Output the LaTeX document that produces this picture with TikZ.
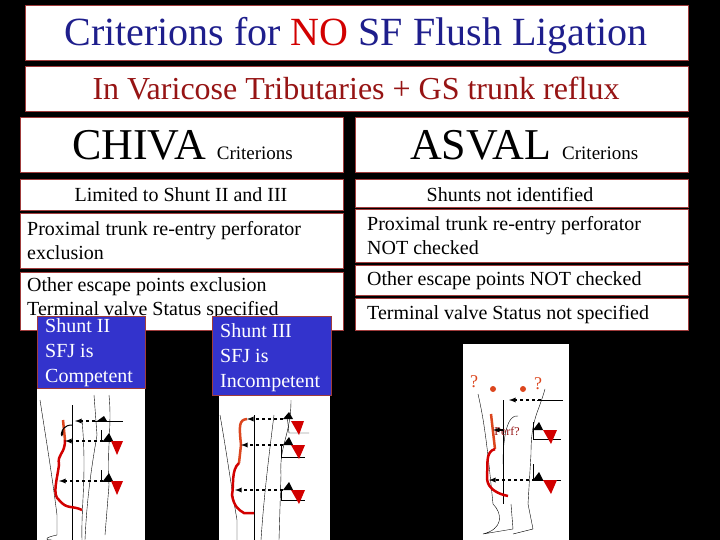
\documentclass[tikz,border=0pt]{standalone}
\usepackage{fontspec}
\setmainfont{Liberation Serif}
\newfontfamily\tnr{Liberation Serif}
\definecolor{navy}{RGB}{30,30,140}
\definecolor{tred}{RGB}{210,0,0}
\definecolor{maroon}{RGB}{150,20,20}
\definecolor{bord}{RGB}{160,60,60}
\definecolor{sblue}{RGB}{51,51,204}
\definecolor{vein}{RGB}{220,70,30}
\begin{document}
\begin{tikzpicture}[x=1pt,y=-1pt,
 box/.style={draw=bord,fill=white,line width=0.8pt},
 txt/.style={anchor=west,align=left,font=\tnr\fontsize{20}{24}\selectfont,inner sep=0},
 blu/.style={draw=bord,fill=sblue,line width=0.8pt},
 bt/.style={anchor=north west,align=left,text=white,font=\tnr\fontsize{20}{25}\selectfont,inner sep=0},
 arr/.style={dashed,line width=1.3pt,-latex},
 tri/.style={fill=tred}]
\fill[black] (0,0) rectangle (720,540);
\useasboundingbox (0,0) rectangle (720,540);
% title
\draw[box] (25,5) rectangle (688,60);
\node[anchor=base,inner sep=0] (t) at (356,46) {\fontspec{Liberation Serif}\fontsize{40}{44}\selectfont\color{navy}Criterions for \textcolor{tred}{NO} SF Flush Ligation};
\draw[box] (25,66) rectangle (688,111);
\node[anchor=base,inner sep=0] (t2) at (356,100) {\fontspec{Liberation Serif}\fontsize{32}{36}\selectfont\color{maroon}In Varicose Tributaries + GS trunk reflux};
\draw[box] (20,117) rectangle (343,172);
\node[anchor=base west,inner sep=0,font=\tnr] (c) at (72,160) {\fontsize{44}{48}\selectfont CHIVA \fontsize{19}{20}\selectfont Criterions};
\draw[box] (355,117) rectangle (688,172);
\node[anchor=base west,inner sep=0,font=\tnr] (a) at (410,160) {\fontsize{44}{48}\selectfont ASVAL \fontsize{19}{20}\selectfont Criterions};
% left list
\draw[box] (20,179) rectangle (343,210);
\node[txt,anchor=center] (l1) at (181,195) {Limited to Shunt II and III};
\draw[box] (20,213) rectangle (343,268);
\node[txt] (l2) at (27,241) {Proximal trunk re-entry perforator\\exclusion};
\draw[box] (20,272) rectangle (343,330);
\node[txt] (l3) at (27,299) {Other escape points exclusion\\Terminal valve Status specified};
% right list
\draw[box] (355,179) rectangle (688,207);
\node[txt,anchor=center] (r1) at (510,195) {Shunts not identified};
\draw[box] (355,209) rectangle (688,262);
\node[txt] (r2) at (367,236) {Proximal trunk re-entry perforator\\NOT checked};
\draw[box] (355,265) rectangle (688,295);
\node[txt] (r3) at (367,281) {Other escape points NOT checked};
\draw[box] (355,298) rectangle (688,330);
\node[txt] (r4) at (367,315) {Terminal valve Status not specified};
% leg panels
\fill[white] (37,385) rectangle (145,540);
\fill[white] (219,395) rectangle (330,540);
\fill[white] (463,344) rectangle (569,540);
% blue boxes
\draw[blu] (37,316) rectangle (145,388);
\node[bt] (s2) at (45,318) {Shunt II\\SFJ is\\Competent};
\draw[blu] (212,316) rectangle (331,395);
\node[bt] (s3) at (220,323) {Shunt III\\SFJ is\\Incompetent};
% leg 1
\begin{scope}[shift={(37,385)}]
 \draw (3,15) .. controls (10,60) and (15,90) .. (20,130) -- (20,150) .. controls (10,152) and (5,155) .. (15,155);
 \draw (72,10) .. controls (75,40) and (70,60) .. (72,100) -- (68,150);
 \draw (57,10) -- (60,50) .. controls (55,80) and (50,110) .. (48,155);
 \draw (45,35) .. controls (50,90) and (44,120) .. (45,155);
 \draw[line width=0.8pt] (35,20) -- (35,155);
 \draw (55,36) -- (86,36);
 \draw (64,45) -- (64,56) -- (85,56);
 \draw (64,85) -- (64,96) -- (85,96);
 \draw[vein,line width=2.5pt] (26,35) -- (28,55);
 \draw[tred,line width=2.5pt] (28,55) .. controls (28,70) and (20,68) .. (22,80) .. controls (20,95) and (15,110) .. (22,115) .. controls (30,125) and (35,120) .. (45,125);
 \draw[line width=1pt] (35,40) .. controls (20,40) and (25,60) .. (26,45);
 \draw[arr] (64,36) -- (38,36);
 \draw[arr] (66,56) -- (28,56);
 \draw[arr] (66,96) -- (22,96);
 \fill (60,36) -- (67,31) -- (70,36) -- cycle;
 \fill (66,56) -- (72,48) -- (76,56) -- cycle;
 \fill (66,96) -- (72,88) -- (76,96) -- cycle;
 \fill[tri] (74,56) -- (86,56) -- (80,70) -- cycle;
 \fill[tri] (74,96) -- (86,96) -- (80,110) -- cycle;
\end{scope}
% leg 2
\begin{scope}[shift={(219,395)}]
 \draw (1,20) .. controls (8,60) and (12,90) .. (18,125) -- (18,145);
 \draw (72,5) .. controls (72,40) and (60,50) .. (62,80) -- (60,145);
 \draw (55,20) .. controls (50,60) and (45,100) .. (42,145);
 \draw[line width=0.8pt] (35,20) -- (35,145);
 \draw (68,20) -- (70,38) -- (90,38);
 \draw (62,50) -- (62,62) -- (86,62);
 \draw (62,95) -- (62,105) -- (86,105);
 \draw[vein,line width=2.5pt] (28,24) .. controls (20,25) and (20,30) .. (22,50) -- (20,68);
 \draw[tred,line width=2.5pt] (20,68) .. controls (12,75) and (15,90) .. (13,100) .. controls (15,112) and (20,115) .. (25,118) -- (35,118);
 \draw[arr] (64,24) -- (28,24);
 \draw[arr] (64,50) -- (22,50);
 \draw[arr] (64,95) -- (16,95);
 \fill (64,24) -- (70,17) -- (74,24) -- cycle;
 \fill (64,50) -- (70,42) -- (74,50) -- cycle;
 \fill (64,95) -- (70,87) -- (74,95) -- cycle;
 \fill[tri] (72,26) -- (85,26) -- (80,40) -- cycle;
 \fill[tri] (72,50) -- (86,50) -- (80,64) -- cycle;
 \fill[tri] (72,95) -- (86,95) -- (80,109) -- cycle;
\end{scope}
% leg 3
\begin{scope}[shift={(463,344)}]
 \node[text=vein,font=\tnr\fontsize{18}{18}\selectfont,inner sep=0] (q1) at (11,38) {?};
 \node[text=vein,font=\tnr\fontsize{18}{18}\selectfont,inner sep=0] (q2) at (75,40) {?};
 \fill[vein] (30,45) circle (3);
 \fill[vein] (60,45) circle (3);
 \draw (15,50) .. controls (22,80) and (25,110) .. (30,160) .. controls (40,170) and (40,185) .. (20,190) -- (50,185) -- (48,160);
 \draw (82,45) .. controls (75,70) and (68,75) .. (68,110) -- (65,160) -- (70,185) -- (50,190);
 \draw (55,72) .. controls (45,70) and (40,90) .. (40,120);
 \draw[line width=0.8pt] (40,56) -- (40,160);
 \draw (74,56) -- (100,56);
 \draw (70,78) -- (70,95) -- (98,95);
 \draw (70,120) -- (70,136) -- (98,136);
 \draw[vein,line width=2.5pt] (28,70) -- (32,105);
 \draw[tred,line width=2.5pt] (32,105) .. controls (22,108) and (25,120) .. (24,135) .. controls (25,145) and (35,150) .. (45,152);
 \node[text=maroon,font=\tnr\fontsize{12}{14}\selectfont,inner sep=0] (pf) at (44,87) {Perf?};
 \draw[arr] (78,56) -- (46,56);
 \draw[arr] (72,136) -- (26,136);
 \draw[line width=1.2pt,-latex] (40,86) -- (30,86);
 \fill (70,86) -- (76,78) -- (80,86) -- cycle;
 \fill (70,136) -- (76,128) -- (80,136) -- cycle;
 \fill[tri] (80,86) -- (94,86) -- (88,100) -- cycle;
 \fill[tri] (80,136) -- (94,136) -- (88,150) -- cycle;
\end{scope}
\end{tikzpicture}
\end{document}
